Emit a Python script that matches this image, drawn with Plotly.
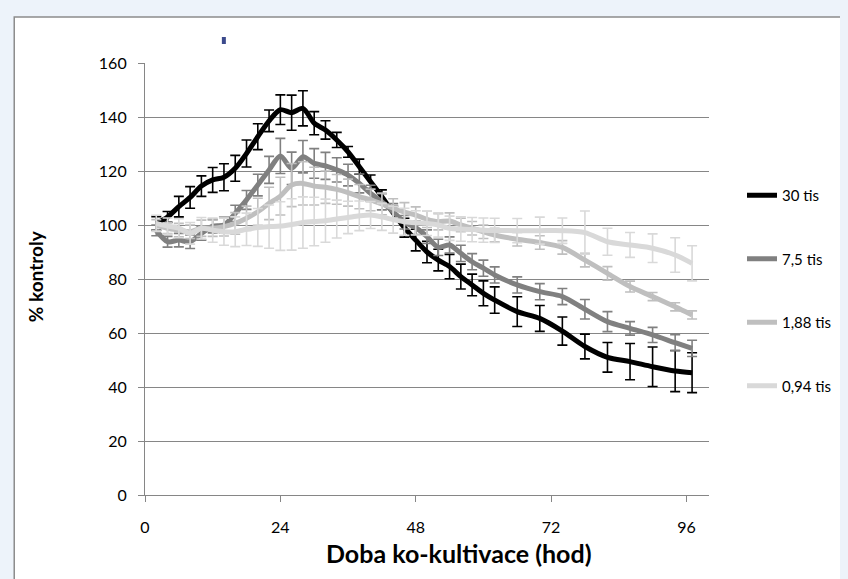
import plotly.graph_objects as go

# ---- data ----
hours = [2, 4, 6, 8, 10, 12, 14, 16, 18, 20, 22, 24, 26, 28, 30, 32, 34, 36, 38, 40,
         42, 44, 46, 48, 50, 52, 54, 56, 58, 60, 62, 66, 70, 74, 78, 82, 86, 90, 94, 97]

s30 = [100.6, 103, 106.8, 110.2, 114.4, 116.7, 117.7, 121, 126.5, 132.7,
       138.6, 142.7, 141.6, 143.2, 137.7, 135.2, 131.5, 127.1, 121.6, 116,
       110.5, 104.5, 99, 94.4, 90, 87, 84.6, 80.9, 77.8, 74.7,
       72.2, 67.9, 65.4, 60.7, 55, 51, 49.4, 47.5, 45.9, 45.3]
e30 = [2.5, 2, 3.8, 4, 3.8, 4.6, 5, 4.8, 5, 4.8,
       4, 5.5, 6.5, 6.5, 4.3, 3.4, 2.8, 2, 2.8, 2.5,
       2.5, 2.5, 3.5, 4, 4, 4, 4.5, 4.6, 4, 4.6,
       4.9, 5.5, 4.8, 5.2, 4.6, 5.5, 6.7, 7.3, 7.6, 7.4]

s75 = [98, 93.8, 94.4, 93.8, 96.9, 99.6, 100, 104.3, 109.3, 114.8,
       120.4, 125.6, 121, 125.3, 122.8, 121.9, 120.4, 118.5, 115.4, 111.7,
       108.6, 104.9, 101, 99, 95.7, 91.7, 92.6, 89.5, 86.4, 84,
       81.5, 77.8, 75.3, 73.5, 68.8, 64.2, 61.7, 59.3, 56.4, 54.3]
e75 = [2, 2, 2.5, 2.5, 2.5, 2.5, 3, 3, 3.5, 4,
       5, 6.5, 6, 6, 5.5, 5, 4.5, 4, 3.5, 3,
       3, 3, 2.5, 2.5, 2.5, 3, 3, 3, 3, 3,
       3, 3, 3, 3, 3.6, 3.7, 2.5, 2.8, 3, 3]

s188 = [100, 98.8, 98.1, 97.5, 98.8, 98.8, 99.4, 100.6, 102.5, 104.9,
        108, 110.7, 114.8, 115.4, 114.4, 114, 113.2, 112, 110.5, 109.3,
        107.8, 106.2, 104.8, 103.7, 102.1, 101.2, 101.5, 100, 98.8, 97.5,
        96.3, 94.7, 93.5, 91.7, 87, 82.1, 77.2, 73.5, 69.7, 66.7]
e188 = [2, 2, 2.5, 2.5, 3, 3, 3.5, 4, 4.5, 5,
        6, 7, 8, 8, 7, 6, 5.5, 5, 4.5, 4,
        4, 3.5, 3.5, 3, 3, 3, 3, 2.5, 2.5, 2.5,
        2.5, 2.5, 2.5, 2.5, 2.5, 2.5, 2, 1.5, 1.5, 1.5]

s094 = [100.6, 99.6, 98.8, 96.9, 98.8, 98.1, 97.5, 97.5, 98.4, 99.1,
        99.4, 99.6, 100.2, 100.9, 101.3, 101.6, 102.2, 102.8, 103.4, 103.7,
        103, 102, 101.2, 100.8, 100.6, 100, 98.8, 98.5, 98.3, 98.1,
        98, 97.9, 97.9, 97.9, 97.2, 93.8, 92.6, 91.4, 88.9, 85.8]
e094 = [3, 3, 3.5, 4, 4, 4.5, 5, 5.5, 6, 7,
        8, 9, 9.5, 9.5, 9, 8, 7, 6, 5.5, 5,
        5, 5, 5, 4.5, 4.5, 4.5, 4.5, 4.5, 4.5, 4.5,
        4.5, 4.5, 5, 4.7, 8, 5, 4.6, 5.3, 6.4, 6.5]

names = ["30 tis", "7,5 tis", "1,88 tis", "0,94 tis"]
values = [s30, s75, s188, s094]
errors = [e30, e75, e188, e094]
colors = ["#000000", "#808080", "#bfbfbf", "#d9d9d9"]

x_ticks = [0, 24, 48, 72, 96]
y_ticks = [0, 20, 40, 60, 80, 100, 120, 140, 160]

FONT = "Lato"

fig = go.Figure()
for i, (n, v, e, c) in enumerate(zip(names, values, errors, colors)):
    fig.add_trace(go.Scatter(
        x=hours, y=v, name=n, mode="lines", legendgroup=n,
        line=dict(color=c, width=5, shape="spline", smoothing=0.8),
        error_y=dict(type="data", array=e, visible=True, color=c,
                     thickness=1.6, width=5),
    ))

# page body has an 8px margin: work in screen coordinates, convert to figure
OFF = 8
W, H = 848 - OFF, 579 - OFF
PL, PR, PT, PB = 145 - OFF, 710 - OFF, 63 - OFF, 495 - OFF   # plot area in figure coords
L, R, T, B = PL, W - PR, PT, H - PB
pw, ph = PR - PL, PB - PT

def px(xs):
    return (xs - OFF - PL) / pw

def py(ys):
    return (PB - (ys - OFF)) / ph

shapes = [
    dict(type="rect", xref="paper", yref="paper", layer="below",
         x0=px(14), x1=px(880), y0=py(620), y1=py(17),
         line=dict(color="#8c8c8c", width=1.5), fillcolor="#ffffff"),
    dict(type="rect", xref="paper", yref="paper", layer="above",
         x0=px(222), x1=px(226), y0=py(44), y1=py(37),
         line=dict(width=0), fillcolor="#3c4a8c"),
]

annotations = [
    dict(text="<b>Doba ko-kultivace (hod)</b>", xref="paper", yref="paper",
         x=px(460), y=py(553), showarrow=False, xanchor="center", yanchor="middle",
         font=dict(family=FONT, size=25, color="#000000")),
    dict(text="<b>% kontroly</b>", xref="paper", yref="paper",
         x=px(35), y=py(276), showarrow=False, textangle=-90,
         xanchor="center", yanchor="middle",
         font=dict(family=FONT, size=19, color="#000000")),
]

fig.update_layout(
    width=W, height=H,
    margin=dict(l=L, r=R, t=T, b=B, pad=0),
    paper_bgcolor="#edf3fa",
    plot_bgcolor="rgba(0,0,0,0)",
    font=dict(family=FONT, size=15, color="#000000"),
    shapes=shapes,
    annotations=annotations,
    showlegend=True,
    legend=dict(x=px(742), y=py(179), xanchor="left", yanchor="top",
                bgcolor="rgba(0,0,0,0)", tracegroupgap=41,
                font=dict(family=FONT, size=15, color="#000000"),
                itemwidth=30),
    xaxis=dict(range=[0, 100], tickvals=x_ticks, showgrid=False,
               showline=True, linecolor="#868686", linewidth=1.2,
               ticks="outside", ticklen=6, tickcolor="#868686", tickwidth=1.2,
               ticklabelstandoff=12,
               zeroline=False, tickfont=dict(family=FONT, size=16)),
    yaxis=dict(range=[0, 160], tickvals=y_ticks, showgrid=True,
               gridcolor="#868686", gridwidth=1.2,
               showline=True, linecolor="#868686", linewidth=1.2,
               ticks="outside", ticklen=6, tickcolor="#868686", tickwidth=1.2,
               ticklabelstandoff=8,
               zeroline=False, tickfont=dict(family=FONT, size=16)),
)

fig.write_html("out.html", post_script="document.body.style.background='#edf3fa';")
